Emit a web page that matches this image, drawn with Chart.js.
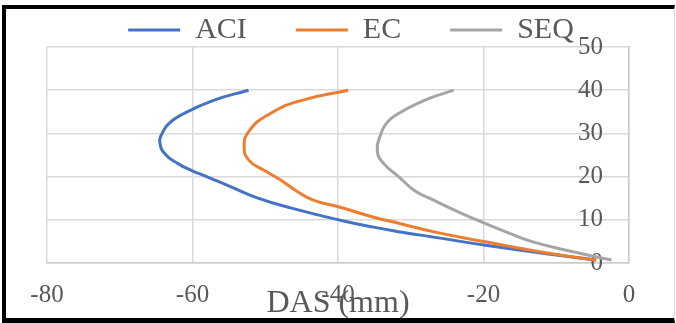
<!DOCTYPE html>
<html>
<head>
<meta charset="utf-8">
<script src="https://cdn.jsdelivr.net/npm/chart.js@4.4.1/dist/chart.umd.min.js"></script>
<style>
    body { margin: 0; background: #fff; }
    .wrap { position: relative; width: 676px; height: 323px; }
    .frame {
        position: absolute; left: 2px; top: 5px; right: 1px; bottom: 0;
        border-left: 4px solid #000; border-top: 4px solid #000;
        border-bottom: 5px solid #000; border-right: 1px solid #d9d9d9;
        pointer-events: none;
    }
</style>
</head>
<body>
<div class="wrap">
    <canvas id="myChart"></canvas>
    <div class="frame"></div>
</div>
<script>
const seriesNames = ['ACI', 'EC', 'SEQ'];
const seriesColors = ['#4472C4', '#ED7D31', '#A5A5A5'];

// DAS (mm) on x, depth on y
const aciDas   = [-4.5, -10.8, -19.7, -25.7, -31.4, -35.1, -39.7, -46.4, -51.0, -54.7, -57.9, -60.1, -62.0, -63.8, -64.5, -64.2, -63.3, -61.3, -57.2, -52.3];
const aciDepth = [0.7, 2.0, 4.1, 5.7, 7.2, 8.3, 9.9, 12.7, 15.0, 17.6, 19.9, 21.4, 23.0, 25.3, 28.0, 29.9, 32.2, 34.5, 37.6, 40];

const ecDas   = [-4.5, -10.8, -19.7, -26.8, -31.4, -35.1, -39.7, -43.3, -45.8, -47.8, -50.1, -52.2, -52.9, -52.2, -49.4, -45.1, -38.6];
const ecDepth = [0.7, 2.2, 4.9, 7.2, 9.1, 10.6, 12.9, 14.5, 16.8, 19.1, 21.4, 23.7, 26.8, 30.6, 34.5, 37.6, 40];

const seqDas   = [-2.4, -7.7, -13.2, -16.3, -19.7, -23.4, -26.8, -29.5, -31.6, -33.7, -34.6, -34.1, -33.4, -31.8, -28.2, -24.1];
const seqDepth = [0.7, 2.6, 4.9, 6.8, 9.1, 11.8, 14.5, 16.8, 19.9, 23.0, 26.0, 29.9, 32.2, 34.5, 37.6, 40];

const xTicks = [-80, -60, -40, -20, 0];
const yTicks = [0, 10, 20, 30, 40, 50];

const textColor = '#595959';
const gridColor = '#d9d9d9';
const legendHeight = 81;

function toPoints(das, depth) {
    return das.map((x, i) => ({x: x, y: depth[i]}));
}

// legend overlaps the plot a bit, as in the original
const legendFit = {
    id: 'legendFit',
    beforeInit(chart) {
        const fit = chart.legend.fit;
        chart.legend.fit = function () {
            fit.call(this);
            this.height = legendHeight;
        };
    }
};

const ctx = document.getElementById('myChart');
const seriesData = [toPoints(aciDas, aciDepth), toPoints(ecDas, ecDepth), toPoints(seqDas, seqDepth)];

new Chart(ctx, {
    type: 'scatter',
    data: {
        datasets: seriesNames.map((name, i) => ({
            label: name,
            data: seriesData[i],
            showLine: true,
            order: seriesNames.length - i, // later series drawn on top
            borderColor: seriesColors[i],
            backgroundColor: seriesColors[i],
            borderWidth: 3,
            pointRadius: 0,
            tension: 0.5
        }))
    },
    options: {
        responsive: true,
        maintainAspectRatio: false,
        animation: false,
        layout: {padding: {left: 47, right: 21, top: -34, bottom: 0}},
        plugins: {
            legend: {
                position: 'top',
                labels: {
                    usePointStyle: true,
                    pointStyle: 'line',
                    pointStyleWidth: 52,
                    padding: 49,
                    color: textColor,
                    font: {family: 'Liberation Serif', size: 30},
                    sort: (a, b) => a.datasetIndex - b.datasetIndex
                }
            },
            tooltip: {enabled: false}
        },
        scales: {
            x: {
                type: 'linear',
                min: xTicks[0],
                max: xTicks[xTicks.length - 1],
                afterBuildTicks: (scale) => { scale.ticks = xTicks.map(v => ({value: v})); },
                afterFit: (scale) => { scale.height = 60; },
                ticks: {color: textColor, padding: 17, font: {family: 'Liberation Serif', size: 25}},
                grid: {color: gridColor, lineWidth: 1.5, drawTicks: false},
                border: {color: '#cccccc', width: 1.5},
                title: {
                    display: true,
                    text: 'DAS (mm)',
                    color: textColor,
                    font: {family: 'Liberation Serif', size: 32},
                    padding: {top: 0, bottom: 0}
                }
            },
            y: {
                type: 'linear',
                position: 'right',
                min: yTicks[0],
                max: yTicks[yTicks.length - 1],
                afterBuildTicks: (scale) => { scale.ticks = yTicks.map(v => ({value: v})); },
                afterFit: (scale) => { scale.width = 26; },
                ticks: {mirror: true, padding: -26, color: textColor, font: {family: 'Liberation Serif', size: 25}},
                grid: {color: gridColor, lineWidth: 1.5, drawTicks: false},
                border: {color: '#cccccc', width: 1.5}
            }
        }
    },
    plugins: [legendFit]
});
</script>
</body>
</html>
